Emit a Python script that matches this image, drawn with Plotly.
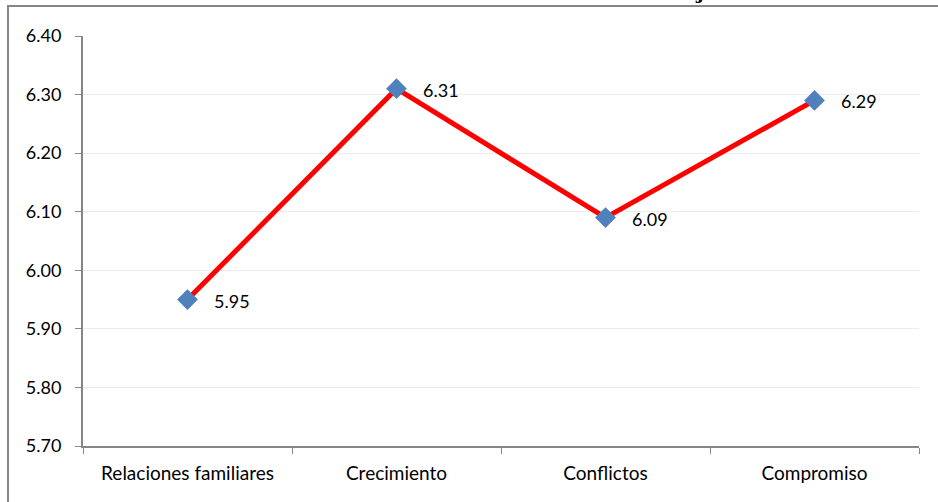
import plotly.graph_objects as go

categories = ["Relaciones familiares", "Crecimiento", "Conflictos", "Compromiso"]
values = [5.95, 6.31, 6.09, 6.29]
y_ticks = [5.70, 5.80, 5.90, 6.00, 6.10, 6.20, 6.30, 6.40]

FONT = "Lato"
AXIS_GREY = "#868686"

fig = go.Figure()
fig.add_trace(go.Scatter(
    x=categories,
    y=values,
    mode="lines+markers",
    line=dict(color="#ff0000", width=5),
    marker=dict(symbol="diamond", size=16, color="#4f81bd",
                line=dict(width=0)),
    hoverinfo="skip",
))

# value labels to the right of each point
for c, v in zip(categories, values):
    fig.add_annotation(x=c, y=v, text=f"{v:.2f}", showarrow=False,
                       xanchor="left", yanchor="middle", xshift=24, yshift=-1,
                       font=dict(family=FONT, size=18, color="#000000"))

# tail of the heading above the chart frame
fig.add_annotation(x=0.737, y=1.0878, xref="paper", yref="paper",
                   text="<b>j</b>", showarrow=False,
                   xanchor="center", yanchor="bottom", yshift=-5,
                   font=dict(family="DejaVu Serif", size=18, color="#000000"))

fig.update_layout(
    width=938, height=502,
    margin=dict(l=83, r=19, t=36, b=56),
    paper_bgcolor="white", plot_bgcolor="white",
    showlegend=False,
    font=dict(family=FONT, size=18, color="#000000"),
    shapes=[dict(type="rect", xref="paper", yref="paper",
                 x0=-0.0897, x1=1.1, y0=-0.25, y1=1.0732,
                 line=dict(color=AXIS_GREY, width=2), layer="below")],
)
fig.update_xaxes(
    type="category", tickson="boundaries", range=[-0.5, 3.5],
    showline=True, linecolor=AXIS_GREY, linewidth=2,
    ticks="outside", ticklen=6, tickcolor=AXIS_GREY, tickwidth=1,
    showgrid=False, zeroline=False,
    tickfont=dict(family=FONT, size=19),
    ticklabelstandoff=9,
)
fig.update_yaxes(
    range=[5.70, 6.40], tickvals=y_ticks,
    ticktext=[f"{t:.2f}" for t in y_ticks],
    showline=True, linecolor=AXIS_GREY, linewidth=2,
    ticks="outside", ticklen=6, tickcolor=AXIS_GREY, tickwidth=1,
    showgrid=True, gridcolor="#ececec", gridwidth=1, zeroline=False,
    tickfont=dict(family=FONT, size=18),
    ticklabelstandoff=10,
)

fig.write_html("out.html")
